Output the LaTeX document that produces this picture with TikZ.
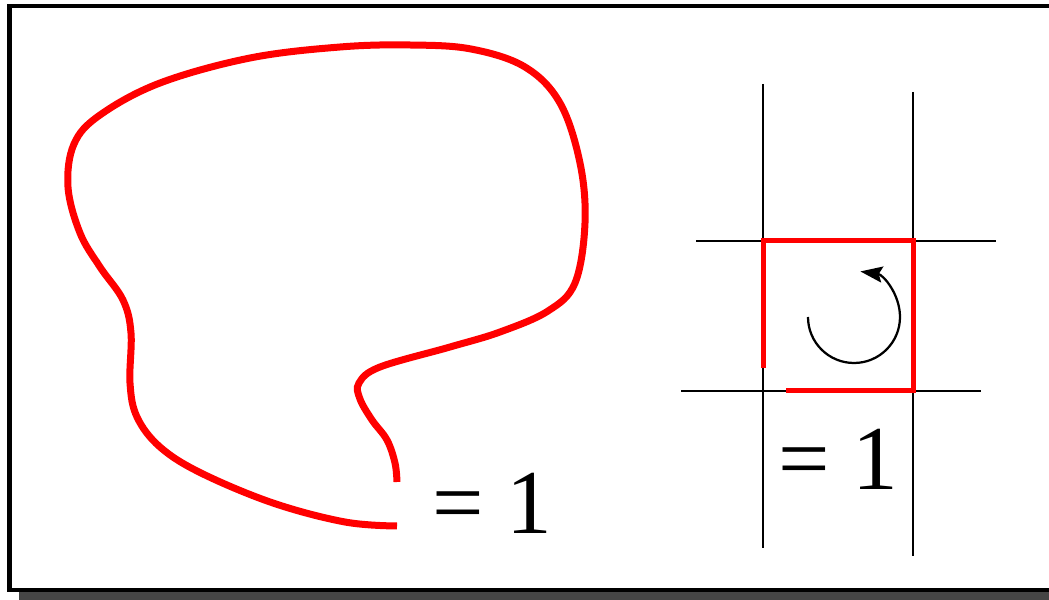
\documentclass[tikz,border=0pt]{standalone}
\usepackage{fontspec}
\setmainfont{Liberation Serif}
\usepackage{tikz}
\usetikzlibrary{arrows.meta, positioning, calc}

\begin{document}
\begin{tikzpicture}[
    x=0.02cm, y=0.02cm,
    frame/.style={draw=black, line width=0.09cm, fill=white},
    shadow/.style={fill=black!73},
    curve/.style={draw=red, line width=0.14cm},
    plaquette/.style={draw=red, line width=0.1cm},
    gridline/.style={draw=black, line width=0.045cm},
    turn/.style={draw=black, line width=0.045cm, -{Stealth[length=0.44cm, width=0.32cm, inset=0.07cm]}},
    eqlabel/.style={inner sep=0, font=\fontsize{52}{60}\selectfont}
]
\useasboundingbox (0,0) rectangle (1049,599);

\fill [shadow] (19,-5) rectangle (1075,580);
\draw [frame] (9.5,9) rectangle (1062,593);

\draw [curve] plot [smooth, tension=0.6] coordinates {
    (397,73) (345,77) (273,96) (201,126) (160,152) (137,182) (130,216)
    (131,266) (123,299) (100,332) (80,366) (68,412) (74,455) (100,484)
    (160,516) (250,541) (340,552) (410,554) (471,550) (525,532) (560,496)
    (580,436) (585,376) (575,316) (548,288) (500,267) (450,252) (380,232)
    (359,216) (360,200) (372,179) (387,159) (395,136) (397,117)};
\node (lhs) [eqlabel, anchor=base west] at (432,66) {= 1};

\draw [gridline] (763,515) -- (763,51);
\draw [gridline] (913,507) -- (913,43);
\draw [gridline] (696,358) -- (996,358);
\draw [gridline] (681,208) -- (981,208);
\draw [plaquette] (763,231) -- (763,358) -- (913,358) -- (913,208) -- (786,208);
\draw [turn] (808,282) arc [start angle=180, end angle=442, radius=46];
\node (rhs) [eqlabel, anchor=base west] at (778,110) {= 1};

\end{tikzpicture}
\end{document}
